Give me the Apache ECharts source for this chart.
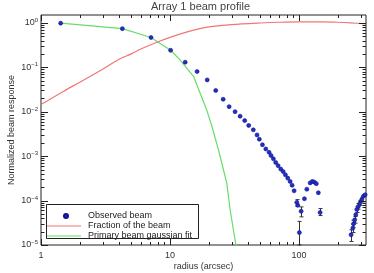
<!DOCTYPE html>
<html><head><meta charset="utf-8">
<script src="https://cdn.jsdelivr.net/npm/echarts@6/dist/echarts.min.js"></script>
<style>html,body{margin:0;padding:0;background:#fff}#c{width:374px;height:273px}</style>
</head><body><div id="c"></div>
<script>
const titleText = 'Array 1 beam profile';
const xAxisName = 'radius (arcsec)';
const yAxisName = 'Normalized beam response';
const seriesNames = ['Observed beam', 'Fraction of the beam', 'Primary beam gaussian fit'];

const observedR = [1.42, 4.27, 7.12, 10.1, 13.1, 16.2, 19.4, 22.6, 25.8, 28.7, 31.9, 34.9, 37.9, 40.7, 44.2, 47.2, 49.2, 52, 55.2, 58.5, 60.6, 63.2, 65.9, 68.8, 72.1, 75.2, 78.3, 81.7, 85.2, 88.3, 91.5, 96, 97.7, 100.5, 103.7, 110, 114.8, 121.7, 126.8, 131.4, 136, 141, 145.5, 253, 261, 264, 270, 275, 280, 288, 297, 306, 315, 325];
const observedV = [0.98, 0.74, 0.467, 0.241, 0.130, 0.080, 0.052, 0.030, 0.019, 0.013, 0.0100, 0.0079, 0.0063, 0.0049, 0.0039, 0.0030, 0.0024, 0.0018, 0.00145, 0.00122, 0.00103, 0.00087, 0.00072, 0.00061, 0.00051, 0.00045, 0.00038, 0.00032, 0.00027, 0.00022, 0.000166, 0.000091, 0.000078, 0.000019, 0.0000575, 0.00011, 0.00018, 0.00025, 0.00027, 0.00026, 0.00024, 0.00015, 0.000054, 0.000017, 0.000024, 0.000030, 0.000037, 0.000048, 0.000063, 0.000074, 0.000089, 0.000105, 0.000125, 0.000135];

const errR = [96, 100.5, 103.7, 145.5, 253, 261, 264, 270, 280, 288, 297, 306];
const errLow = [0.000074, 0.00001, 0.000043, 0.000046, 0.000012, 0.000019, 0.000025, 0.000031, 0.000054, 0.000064, 0.000078, 0.000093];
const errHigh = [0.000105, 0.000034, 0.000072, 0.000066, 0.000022, 0.000029, 0.000036, 0.000044, 0.000073, 0.000086, 0.000101, 0.000118];

const fractionR = [1, 1.5, 2, 3, 4, 5, 6, 8, 10, 13, 17, 20, 30, 50, 70, 100, 150, 200, 250, 330];
const fractionV = [0.0145, 0.029, 0.046, 0.09, 0.15, 0.20, 0.26, 0.37, 0.47, 0.60, 0.74, 0.81, 0.91, 0.99, 1.03, 1.05, 1.05, 1.03, 1.0, 0.95];

const gaussR = [1.42, 4.27, 7.12, 10.1, 11.9, 15.2, 19.2, 21.1, 23.7, 25.9, 27.5, 29.2, 32.5];
const gaussV = [0.98, 0.74, 0.467, 0.241, 0.149, 0.0627, 0.0111, 0.0047, 0.0014, 0.0005, 0.00025, 0.000063, 0.0000093];

const xMin = 1, xMax = 330, yMin = 1e-5, yMax = 1.5;
const xMajorTicks = [1, 10, 100];
const xMinorTicks = [2, 3, 4, 5, 6, 7, 8, 9, 20, 30, 40, 50, 60, 70, 80, 90, 200, 300];
const yMajorTicks = [1e-5, 1e-4, 1e-3, 1e-2, 1e-1, 1];
const yMinorTicks = [];
[-5, -4, -3, -2, -1].forEach(function (e) {
  for (let k = 2; k <= 9; k++) yMinorTicks.push(k * Math.pow(10, e));
});

function zip(a, b) { return a.map(function (v, i) { return [v, b[i]]; }); }
function isPow(v) { const e = Math.log10(v); return Math.abs(e - Math.round(e)) < 1e-6; }

const tickData = [];
xMajorTicks.forEach(function (v) { tickData.push([v, 1, 0, 1]); });
xMinorTicks.forEach(function (v) { tickData.push([v, 1, 0, 0]); });
yMajorTicks.forEach(function (v) { tickData.push([1, v, 1, 1]); });
yMinorTicks.forEach(function (v) { tickData.push([1, v, 1, 0]); });

const frameColor = '#222';
const font = 'Liberation Sans, Arial, sans-serif';
const dotIcon = 'path://M0,0M34,4M21,2A2,2,0,1,1,17,2A2,2,0,1,1,21,2Z';
const lineIcon = 'path://M0,0M34,4M0,1.4L34,1.4L34,2.6L0,2.6Z';

const chart = echarts.init(document.getElementById('c'), null, { renderer: 'canvas' });
chart.setOption({
  animation: false,
  backgroundColor: '#fff',
  title: {
    text: titleText, left: 151, top: 1, padding: 0,
    textStyle: { fontSize: 11, fontWeight: 'normal', color: '#444', fontFamily: font }
  },
  grid: { left: 41, right: 8, top: 15, bottom: 28, containLabel: false, outerBoundsMode: 'none',
          show: true, borderColor: frameColor, borderWidth: 1, backgroundColor: 'transparent' },
  legend: {
    data: [{ name: seriesNames[0], icon: dotIcon }, { name: seriesNames[1], icon: lineIcon }, { name: seriesNames[2], icon: lineIcon }],
    orient: 'vertical', left: 46, top: 211, itemWidth: 34, itemHeight: 4, itemGap: 0, padding: 0,
    selectedMode: false,
    textStyle: { fontSize: 9, color: '#222', lineHeight: 10, fontFamily: font, padding: [0, 0, 0, 2] }
  },
  graphic: [{
    type: 'rect', silent: true, z: 5,
    shape: { x: 46.5, y: 204.5, width: 152, height: 34 },
    style: { fill: null, stroke: frameColor, lineWidth: 1 }
  }],
  xAxis: {
    type: 'log', logBase: 10, min: xMin, max: xMax,
    name: xAxisName, nameLocation: 'middle', nameGap: 17, nameMoveOverlap: false,
    nameTextStyle: { fontSize: 9, color: '#333', fontFamily: font },
    axisLine: { show: false }, axisTick: { show: false }, splitLine: { show: false },
    axisLabel: { margin: 6, fontSize: 9, color: '#333', fontFamily: font, showMaxLabel: true,
      formatter: function (v) { return isPow(v) ? String(Math.round(v)) : ''; } }
  },
  yAxis: {
    type: 'log', logBase: 10, min: yMin, max: yMax,
    name: yAxisName, nameLocation: 'middle', nameGap: 25, nameMoveOverlap: false,
    nameTextStyle: { fontSize: 9, color: '#333', fontFamily: font },
    axisLine: { show: false }, axisTick: { show: false }, splitLine: { show: false },
    axisLabel: { margin: 3, color: '#333', fontFamily: font,
      formatter: function (v) {
        if (!isPow(v)) return '';
        const e = Math.round(Math.log10(v));
        return '{a|10}{b|' + (e < 0 ? '\u2212' + (-e) : String(e)) + '}';
      },
      rich: {
        a: { fontSize: 9, lineHeight: 11, color: '#333', fontFamily: font },
        b: { fontSize: 6, lineHeight: 6, verticalAlign: 'top', color: '#333', fontFamily: font }
      }
    }
  },
  series: [
    {
      name: seriesNames[2], type: 'line', data: zip(gaussR, gaussV), symbol: 'none', showSymbol: false,
      lineStyle: { color: '#66dd66', width: 1.2 }, itemStyle: { color: '#66dd66' }, z: 2
    },
    {
      name: seriesNames[1], type: 'line', data: zip(fractionR, fractionV), symbol: 'none', showSymbol: false,
      smooth: 0.3,
      lineStyle: { color: '#ee7777', width: 1.2 }, itemStyle: { color: '#ee7777' }, z: 2
    },
    {
      name: 'err', type: 'custom', silent: true, z: 3,
      data: errR.map(function (r, i) { return [r, errLow[i], errHigh[i]]; }),
      encode: { x: 0, y: [1, 2] },
      renderItem: function (params, api) {
        const lo = api.coord([api.value(0), api.value(1)]);
        const hi = api.coord([api.value(0), api.value(2)]);
        const x = Math.round(lo[0]) + 0.5;
        const st = { stroke: '#333', lineWidth: 1 };
        return { type: 'group', children: [
          { type: 'line', shape: { x1: x, y1: lo[1], x2: x, y2: hi[1] }, style: st },
          { type: 'line', shape: { x1: x - 2, y1: lo[1], x2: x + 2, y2: lo[1] }, style: st },
          { type: 'line', shape: { x1: x - 2, y1: hi[1], x2: x + 2, y2: hi[1] }, style: st }
        ] };
      }
    },
    {
      name: seriesNames[0], type: 'scatter', data: zip(observedR, observedV), symbol: 'circle', symbolSize: 4,
      itemStyle: { color: '#1f2fc8', borderColor: '#10108a', borderWidth: 0.6, opacity: 1 }, z: 4
    },
    {
      name: 'ticks', type: 'custom', silent: true, z: 6,
      data: tickData, encode: { x: 0, y: 1 },
      renderItem: function (params, api) {
        const cs = params.coordSys;
        const v = api.value(0), w = api.value(1), isY = api.value(2), major = api.value(3);
        const st = { stroke: frameColor, lineWidth: 1 };
        if (!isY) {
          const len = major ? 6 : 3;
          const px = Math.round(api.coord([v, 1])[0]) + 0.5;
          const yb = cs.y + cs.height, yt = cs.y;
          return { type: 'group', children: [
            { type: 'line', shape: { x1: px, y1: yb, x2: px, y2: yb - len }, style: st },
            { type: 'line', shape: { x1: px, y1: yt, x2: px, y2: yt + len }, style: st }
          ] };
        } else {
          const len = major ? 7 : 3.5;
          const py = Math.round(api.coord([1, w])[1]) + 0.5;
          const xl = cs.x, xr = cs.x + cs.width;
          return { type: 'group', children: [
            { type: 'line', shape: { x1: xl, y1: py, x2: xl + len, y2: py }, style: st },
            { type: 'line', shape: { x1: xr, y1: py, x2: xr - len, y2: py }, style: st }
          ] };
        }
      }
    }
  ]
});
</script>
</body></html>
